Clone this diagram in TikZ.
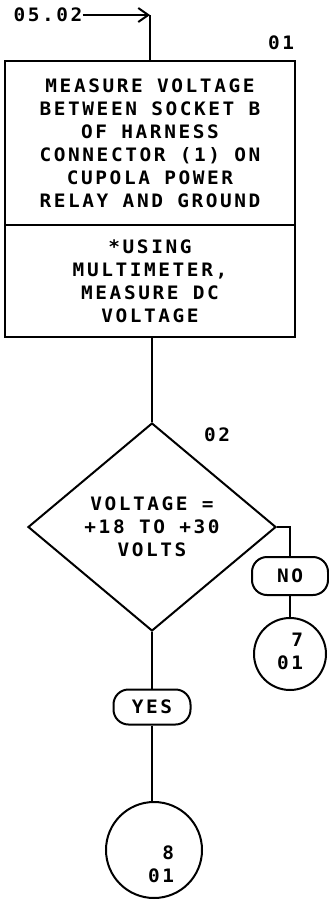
\documentclass[tikz,border=0pt]{standalone}
\usepackage{fontspec}
\usetikzlibrary{shapes.geometric,arrows.meta}
\newfontfamily\lf[FakeStretch=1.05,LetterSpace=14]{DejaVu Sans Mono}
\tikzset{
  ln/.style={line width=2pt},
  txt/.style={font=\lf\bfseries\fontsize{18.5}{23}\selectfont, inner sep=0pt, align=center},
  sect/.style={txt, draw, ln, minimum width=290pt},
  dia/.style={txt, draw, ln, shape=diamond, minimum width=248pt, minimum height=208pt},
  pill/.style={txt, draw, ln, rounded corners=15pt},
  conn/.style={draw, ln, circle, inner sep=0pt},
}
\begin{document}
\begin{tikzpicture}[x=1pt,y=-1pt]
\useasboundingbox (0,0) rectangle (329,900);
% source reference and arrow
\node[txt] (src) at (48,15) {05.02};
\coordinate (corner) at (150,15);
% process box
\node[sect, minimum height=164pt] (b1) at (150,143) {MEASURE VOLTAGE\\BETWEEN SOCKET B\\OF HARNESS\\CONNECTOR (1) ON\\CUPOLA POWER\\RELAY AND GROUND};
\node[sect, minimum height=112pt] (b2) at (150,281) {*USING\\MULTIMETER,\\MEASURE DC\\VOLTAGE};
\node[txt] (n01) at (281,43) {01};
% decision
\node[dia] (d) at (152,527) {VOLTAGE =\\+18 TO +30\\VOLTS};
\node[txt] (n02) at (217,435) {02};
% branches
\node[pill, minimum width=76pt, minimum height=38pt] (no) at (290,576) {NO};
\node[pill, minimum width=77pt, minimum height=35pt] (yes) at (152,707) {YES};
\node[conn, minimum size=72pt] (c7) at (290,654) {};
\node[txt, align=right] (t7) at (290,651) {7\\01};
\node[conn, minimum size=96pt] (c8) at (154,850) {};
\node[txt, align=right] (t8) at (161,864) {8\\01};
% connectors
\draw[ln] (corner) -- (b1.north -| corner);
\draw[ln, -{Straight Barb[length=10pt,width=14pt]}] (src.east) -- (corner);
\draw[ln] (d.north |- b2.south) -- (d.north);
\draw[ln] (d.east) -| (no.north);
\draw[ln] (no.south) -- (no.south |- c7.north);
\draw[ln] (d.south) -- (yes.north);
\draw[ln] (yes.south) -- (yes.south |- c8.north);
\end{tikzpicture}
\end{document}
